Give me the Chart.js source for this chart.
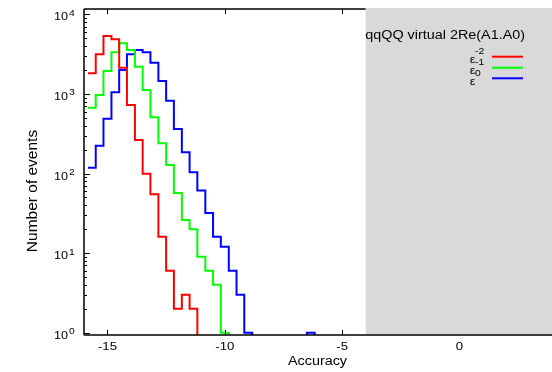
<!DOCTYPE html>
<html>
<head>
<meta charset="utf-8">
<script src="https://cdn.jsdelivr.net/npm/chart.js@4.4.0/dist/chart.umd.min.js"></script>
<style>
  html, body { margin: 0; padding: 0; background: #fff; }
  #wrap { width: 552px; height: 372px; }
</style>
</head>
<body>
<div id="wrap"><canvas id="c" width="552" height="372"></canvas></div>
<script>
// histogram bin lower edges (bin width 1/3)
const binEdges = [-15.83, -15.5, -15.17, -14.83, -14.5, -14.17, -13.83, -13.5, -13.17, -12.83,
  -12.5, -12.17, -11.83, -11.5, -11.17, -10.83, -10.5, -10.17, -9.83, -9.5,
  -9.17, -8.83, -8.5, -8.17, -7.83, -7.5, -7.17, -6.83, -6.5, -6.17];

// counts per bin
const epsM2 = [1815, 3140, 5340, 4850, 2130, 726, 264, 99, 55, 16, 6, 2, 3, 2, 0];
const epsM1 = [671, 968, 1940, 3330, 4330, 3560, 2200, 1120, 508, 240, 128, 57, 26, 20, 9, 6, 4, 1, 0];
const eps0 = [118, 223, 488, 1047, 2000, 3140, 3560, 3330, 2470, 1450, 822, 362, 185, 104, 61, 32, 16, 12, 6, 3, 1,
  0, 0, 0, 0, 0, 0, 0, 1, 0];

const xTicks = [-15, -10, -5, 0];
const yTickExps = [0, 1, 2, 3, 4];
const seriesNames = ['-2', '-1', '0'];
const seriesColors = ['#ff0000', '#00ff00', '#0000ff'];
const grayFrom = -4;
const titleText = 'qqQQ virtual 2Re(A1.A0)';

const FONT = '"Liberation Sans", Arial, sans-serif';
const SX = 1.15; // text looks a bit stretched horizontally
const EMPTY = 0.5; // empty bins: drawn below the axis so the step falls out of the frame

function toPoints(vals) {
  return vals.map((v, i) => ({ x: binEdges[i], y: v > 0 ? v : EMPTY }));
}

function txt(ctx, s, x, y, size, align, baseline, sx) {
  ctx.save();
  ctx.font = size + 'px ' + FONT;
  ctx.textAlign = align || 'left';
  ctx.textBaseline = baseline || 'middle';
  ctx.translate(x, y);
  ctx.scale(sx || SX, 1);
  ctx.fillText(s, 0, 0);
  ctx.restore();
}

const decor = {
  id: 'decor',
  beforeDraw(chart) {
    const ctx = chart.ctx;
    ctx.save();
    ctx.fillStyle = '#fff';
    ctx.fillRect(0, 0, chart.width, chart.height);
    ctx.restore();
  },
  beforeDatasetsDraw(chart) {
    const { ctx, chartArea: a, scales: { x } } = chart;
    const gx = x.getPixelForValue(grayFrom);
    ctx.save();
    ctx.fillStyle = '#d9d9d9';
    ctx.fillRect(gx, a.top - 1, chart.width - gx, a.bottom - a.top + 1);
    ctx.restore();
  },
  afterDatasetsDraw(chart) {
    const { ctx, chartArea: a, scales: { x, y } } = chart;
    const gx = x.getPixelForValue(grayFrom);
    ctx.save();
    ctx.strokeStyle = '#000';
    ctx.lineWidth = 1.5;
    ctx.beginPath();
    ctx.moveTo(a.left, a.top);
    ctx.lineTo(a.left, a.bottom);
    ctx.moveTo(a.left, a.top);
    ctx.lineTo(gx, a.top);
    ctx.stroke();
    ctx.beginPath();
    ctx.moveTo(a.left, a.bottom);
    ctx.lineTo(chart.width, a.bottom);
    ctx.stroke();

    // y ticks (major + minor), pointing inward
    ctx.lineWidth = 1;
    ctx.beginPath();
    yTickExps.forEach(e => {
      for (let m = 1; m < 10; m++) {
        const v = m * Math.pow(10, e);
        if (v < y.min || v > y.max) continue;
        const py = Math.round(y.getPixelForValue(v)) + 0.5;
        ctx.moveTo(a.left, py);
        ctx.lineTo(a.left + (m === 1 ? 6 : 3), py);
      }
    });
    // x ticks bottom and top
    xTicks.forEach(t => {
      const px = Math.round(x.getPixelForValue(t)) + 0.5;
      if (t >= grayFrom) return;
      ctx.moveTo(px, a.bottom);
      ctx.lineTo(px, a.bottom - 5);
      ctx.moveTo(px, a.top);
      ctx.lineTo(px, a.top + 5);
    });
    ctx.stroke();

    ctx.fillStyle = '#000';
    // y tick labels 10^n
    yTickExps.forEach(e => {
      const py = y.getPixelForValue(Math.pow(10, e));
      txt(ctx, '10', 68, py + 3, 11, 'right');
      txt(ctx, String(e), 69, py - 1, 9, 'left');
    });
    xTicks.forEach(t => {
      txt(ctx, String(t), x.getPixelForValue(t), 346.5, 11.5, 'center');
    });

    // axis titles
    txt(ctx, 'Accuracy', (a.left + a.right) / 2, 362, 12.5, 'center');
    ctx.save();
    ctx.translate(33, 191);
    ctx.rotate(-Math.PI / 2);
    ctx.font = '15.5px ' + FONT;
    ctx.textAlign = 'center';
    ctx.textBaseline = 'middle';
    ctx.fillText('Number of events', 0, 0);
    ctx.restore();

    // title
    txt(ctx, titleText, 525, 36, 12.5, 'right');

    // legend
    const ly = [56.7, 67.7, 78.3];
    seriesNames.forEach((n, i) => {
      ctx.strokeStyle = seriesColors[i];
      ctx.lineWidth = 2;
      ctx.beginPath();
      ctx.moveTo(492, ly[i]);
      ctx.lineTo(523, ly[i]);
      ctx.stroke();
      ctx.fillStyle = '#000';
      txt(ctx, '\u03b5', 475.5, ly[i] + 3.5, 11, 'right');
      txt(ctx, n, 475, ly[i] - 5, 9, 'left');
    });
    ctx.restore();
  }
};

const mk = (vals, i) => ({
  data: toPoints(vals),
  borderColor: seriesColors[i],
  borderWidth: 2,
  pointRadius: 0,
  fill: false,
  stepped: 'before',
  clip: 0,
  label: seriesNames[i]
});

new Chart(document.getElementById('c'), {
  type: 'line',
  data: { datasets: [mk(epsM2, 0), mk(epsM1, 1), mk(eps0, 2)] },
  options: {
    responsive: false,
    animation: false,
    devicePixelRatio: 1,
    layout: { padding: { left: 84, top: 9, right: 1, bottom: 37 } },
    plugins: { legend: { display: false }, tooltip: { enabled: false } },
    scales: {
      x: { type: 'linear', min: -16, max: 3.9, display: false },
      y: { type: 'logarithmic', min: 0.936, max: 11660, display: false }
    }
  },
  plugins: [decor]
});
</script>
</body>
</html>
